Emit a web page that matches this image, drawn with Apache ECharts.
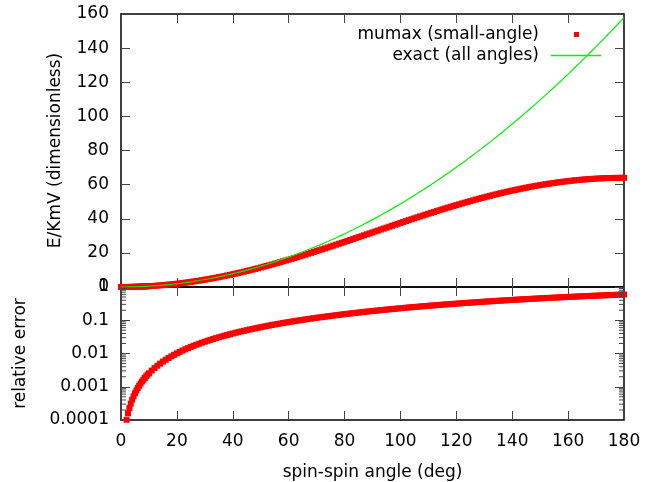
<!DOCTYPE html>
<html>
<head>
<meta charset="utf-8">
<title>mumax small-angle energy vs exact</title>
<script src="https://cdn.jsdelivr.net/npm/echarts@6/dist/echarts.min.js"></script>
<style>
html, body { margin: 0; padding: 0; background: #fff; }
#main { width: 654px; height: 482px; }
</style>
</head>
<body>
<div id="main"></div>
<script>
// spin-spin angle (deg)
var angles = [0, 0.5, 1, 1.5, 2, 2.5, 3, 3.5, 4, 4.5, 5, 5.5, 6, 6.5, 7, 7.5, 8, 8.5, 9, 9.5, 10,
    11, 12, 13, 14, 15, 16, 17, 18, 19, 20,
    21, 22, 23, 24, 25, 26, 27, 28, 29, 30,
    31, 32, 33, 34, 35, 36, 37, 38, 39, 40,
    41, 42, 43, 44, 45, 46, 47, 48, 49, 50,
    51, 52, 53, 54, 55, 56, 57, 58, 59, 60,
    61, 62, 63, 64, 65, 66, 67, 68, 69, 70,
    71, 72, 73, 74, 75, 76, 77, 78, 79, 80,
    81, 82, 83, 84, 85, 86, 87, 88, 89, 90,
    91, 92, 93, 94, 95, 96, 97, 98, 99, 100,
    101, 102, 103, 104, 105, 106, 107, 108, 109, 110,
    111, 112, 113, 114, 115, 116, 117, 118, 119, 120,
    121, 122, 123, 124, 125, 126, 127, 128, 129, 130,
    131, 132, 133, 134, 135, 136, 137, 138, 139, 140,
    141, 142, 143, 144, 145, 146, 147, 148, 149, 150,
    151, 152, 153, 154, 155, 156, 157, 158, 159, 160,
    161, 162, 163, 164, 165, 166, 167, 168, 169, 170,
    171, 172, 173, 174, 175, 176, 177, 178, 179, 180];

// E/KmV, mumax (small-angle)
var mumaxEnergy = [0, 0.00122, 0.00487, 0.01097, 0.0195, 0.03046, 0.04386, 0.05969, 0.07795, 0.09865, 0.1217, 0.1473, 0.1753, 0.2057, 0.2385, 0.2738, 0.3114, 0.3515, 0.394, 0.4389, 0.4862,
    0.5879, 0.6993, 0.8202, 0.9505, 1.0904, 1.2396, 1.3982, 1.5662, 1.7434, 1.9298,
    2.1254, 2.3301, 2.5438, 2.7666, 2.9981, 3.2386, 3.4878, 3.7457, 4.0122, 4.2872,
    4.5707, 4.8625, 5.1625, 5.4708, 5.7871, 6.1115, 6.4437, 6.7837, 7.1313, 7.4866,
    7.8493, 8.2194, 8.5967, 8.9811, 9.3726, 9.7709, 10.176, 10.588, 11.006, 11.431,
    11.862, 12.299, 12.742, 13.191, 13.646, 14.106, 14.572, 15.043, 15.519, 16.0,
    16.486, 16.977, 17.472, 17.972, 18.476, 18.984, 19.497, 20.013, 20.532, 21.055,
    21.582, 22.111, 22.644, 23.18, 23.718, 24.259, 24.802, 25.347, 25.894, 26.443,
    26.994, 27.546, 28.1, 28.655, 29.211, 29.768, 30.325, 30.883, 31.442, 32.0,
    32.558, 33.117, 33.675, 34.232, 34.789, 35.345, 35.9, 36.454, 37.006, 37.557,
    38.106, 38.653, 39.198, 39.742, 40.282, 40.82, 41.356, 41.889, 42.418, 42.945,
    43.468, 43.987, 44.503, 45.016, 45.524, 46.028, 46.528, 47.023, 47.514, 48.0,
    48.481, 48.957, 49.428, 49.894, 50.354, 50.809, 51.258, 51.701, 52.138, 52.569,
    52.994, 53.412, 53.824, 54.229, 54.627, 55.019, 55.403, 55.781, 56.151, 56.513,
    56.869, 57.216, 57.556, 57.889, 58.213, 58.529, 58.837, 59.138, 59.429, 59.713,
    59.988, 60.254, 60.512, 60.761, 61.002, 61.233, 61.456, 61.67, 61.875, 62.07,
    62.257, 62.434, 62.602, 62.76, 62.91, 63.049, 63.18, 63.301, 63.412, 63.514,
    63.606, 63.689, 63.761, 63.825, 63.878, 63.922, 63.956, 63.981, 63.995, 64.0];

// E/KmV, exact (all angles)
var exactEnergy = [0, 0.00122, 0.00487, 0.01097, 0.0195, 0.03046, 0.04387, 0.05971, 0.07798, 0.0987, 0.1218, 0.1474, 0.1755, 0.2059, 0.2388, 0.2742, 0.3119, 0.3521, 0.3948, 0.4399, 0.4874,
    0.5897, 0.7018, 0.8237, 0.9553, 1.0966, 1.2477, 1.4086, 1.5791, 1.7595, 1.9496,
    2.1494, 2.359, 2.5783, 2.8074, 3.0462, 3.2947, 3.5531, 3.8211, 4.0989, 4.3865,
    4.6838, 4.9909, 5.3077, 5.6342, 5.9705, 6.3166, 6.6723, 7.0379, 7.4132, 7.7982,
    8.193, 8.5975, 9.0118, 9.4358, 9.8696, 10.313, 10.766, 11.229, 11.702, 12.185,
    12.677, 13.179, 13.691, 14.212, 14.743, 15.284, 15.835, 16.396, 16.966, 17.546,
    18.136, 18.735, 19.344, 19.963, 20.592, 21.231, 21.879, 22.537, 23.205, 23.882,
    24.569, 25.266, 25.973, 26.689, 27.416, 28.152, 28.897, 29.653, 30.418, 31.193,
    31.978, 32.772, 33.576, 34.39, 35.214, 36.047, 36.89, 37.743, 38.606, 39.478,
    40.361, 41.253, 42.154, 43.066, 43.987, 44.918, 45.858, 46.809, 47.769, 48.739,
    49.718, 50.708, 51.707, 52.716, 53.735, 54.763, 55.801, 56.849, 57.907, 58.974,
    60.051, 61.138, 62.235, 63.341, 64.457, 65.583, 66.719, 67.864, 69.019, 70.184,
    71.358, 72.543, 73.737, 74.941, 76.154, 77.378, 78.611, 79.854, 81.106, 82.369,
    83.641, 84.922, 86.214, 87.515, 88.826, 90.147, 91.478, 92.818, 94.168, 95.528,
    96.898, 98.277, 99.666, 101.065, 102.473, 103.892, 105.32, 106.757, 108.205, 109.662,
    111.129, 112.606, 114.093, 115.589, 117.095, 118.611, 120.136, 121.672, 123.217, 124.771,
    126.336, 127.91, 129.494, 131.088, 132.691, 134.305, 135.928, 137.56, 139.203, 140.855,
    142.517, 144.189, 145.87, 147.562, 149.263, 150.973, 152.694, 154.424, 156.164, 157.914];

// relative error between the two
var relError = [null, 6.35e-6, 2.54e-5, 5.71e-5, 1.015e-4, 1.587e-4, 2.285e-4, 3.11e-4, 4.062e-4, 5.14e-4, 6.346e-4, 7.679e-4, 9.138e-4, 1.0725e-3, 1.243e-3, 1.427e-3, 1.6235e-3, 1.833e-3, 2.0545e-3, 2.289e-3, 2.536e-3,
    0.003068, 0.00365, 0.004283, 0.004966, 0.005699, 0.006482, 0.007315, 0.008198, 0.009131, 0.010113,
    0.011145, 0.012226, 0.013356, 0.014536, 0.015765, 0.017043, 0.018369, 0.019744, 0.021168, 0.022639,
    0.024158, 0.025725, 0.02734, 0.029003, 0.030713, 0.032469, 0.034272, 0.036122, 0.038018, 0.039961,
    0.04195, 0.043984, 0.046064, 0.048189, 0.050359, 0.052573, 0.054832, 0.057135, 0.059482, 0.061873,
    0.064307, 0.066784, 0.069303, 0.071865, 0.074469, 0.077115, 0.079803, 0.082532, 0.085301, 0.08811,
    0.090959, 0.093848, 0.096777, 0.099747, 0.102754, 0.105799, 0.108882, 0.112004, 0.115163, 0.118359,
    0.121591, 0.12486, 0.128164, 0.131504, 0.134879, 0.138288, 0.141732, 0.14521, 0.148721, 0.152265,
    0.155841, 0.15945, 0.163091, 0.166763, 0.170466, 0.1742, 0.177964, 0.181757, 0.185579, 0.189431,
    0.19331, 0.197218, 0.201153, 0.205115, 0.209103, 0.213118, 0.217158, 0.221224, 0.225314, 0.229428,
    0.233566, 0.237728, 0.241912, 0.246119, 0.250348, 0.254598, 0.258869, 0.26316, 0.267471, 0.271803,
    0.276153, 0.280522, 0.284909, 0.289313, 0.293734, 0.298173, 0.302627, 0.307097, 0.311582, 0.316082,
    0.320596, 0.325124, 0.329665, 0.334219, 0.338785, 0.343362, 0.347951, 0.352551, 0.357161, 0.361781,
    0.36641, 0.371048, 0.375694, 0.380348, 0.385009, 0.389678, 0.394352, 0.399033, 0.403719, 0.40841,
    0.413105, 0.417805, 0.422508, 0.427214, 0.431922, 0.436632, 0.441344, 0.446057, 0.450771, 0.455485,
    0.460198, 0.464911, 0.469622, 0.474332, 0.47904, 0.483745, 0.488446, 0.493144, 0.497838, 0.502528,
    0.507213, 0.511893, 0.516567, 0.521234, 0.525895, 0.530549, 0.535195, 0.539833, 0.544463, 0.549084,
    0.553696, 0.558298, 0.56289, 0.567471, 0.572041, 0.5766, 0.581147, 0.585683, 0.590205, 0.594715];

var errorTickLabels = ['0.0001', '0.001', '0.01', '0.1', '1'];
var errorMinorTicks = [2e-4, 3e-4, 4e-4, 5e-4, 6e-4, 7e-4, 8e-4, 9e-4,
    2e-3, 3e-3, 4e-3, 5e-3, 6e-3, 7e-3, 8e-3, 9e-3,
    0.02, 0.03, 0.04, 0.05, 0.06, 0.07, 0.08, 0.09,
    0.2, 0.3, 0.4, 0.5, 0.6, 0.7, 0.8, 0.9];

var myChart = echarts.init(document.getElementById('main'));
var option;
var font = 'DejaVu Sans';
var tickColor = '#444';
var green = '#00f000';

function pairs(values) {
    var out = [];
    for (var i = 0; i < angles.length; i++) {
        out.push([angles[i], values[i]]);
    }
    return out;
}

// gnuplot style border: black line, ticks inside, mirrored on the other side
function frameAxis(extra) {
    var axis = {
        axisLine: { show: true, onZero: false, lineStyle: { color: '#000', width: 1.5 } },
        axisTick: { show: true, inside: true, length: 9, lineStyle: { color: tickColor, width: 1 } },
        axisLabel: { show: false, fontFamily: font, fontSize: 17, color: '#000' },
        splitLine: { show: false },
        nameTextStyle: { fontFamily: font, fontSize: 17, color: '#000' }
    };
    for (var k in extra) {
        if (k === 'axisLabel') {
            for (var j in extra.axisLabel) axis.axisLabel[j] = extra.axisLabel[j];
        } else {
            axis[k] = extra[k];
        }
    }
    return axis;
}

// log minor ticks (2..9 of each decade), both sides of the lower panel
function renderMinorTick(params, api) {
    var v = api.value(1);
    var left = api.coord([0, v]);
    var right = api.coord([180, v]);
    var style = { stroke: tickColor, lineWidth: 1 };
    return {
        type: 'group',
        children: [
            { type: 'line', shape: { x1: left[0], y1: left[1], x2: left[0] + 5, y2: left[1] }, style: style },
            { type: 'line', shape: { x1: right[0] - 5, y1: right[1], x2: right[0], y2: right[1] }, style: style }
        ]
    };
}

var minorData = [];
for (var m = 0; m < errorMinorTicks.length; m++) {
    minorData.push([0, errorMinorTicks[m]]);
}

option = {
    backgroundColor: '#fff',
    animation: false,
    textStyle: { fontFamily: font },
    grid: [
        { left: 121, right: 30, top: 14, height: 273, outerBoundsMode: 'none' },
        { left: 121, right: 30, top: 287, height: 133, outerBoundsMode: 'none' }
    ],
    legend: [
        {
            data: [{ name: 'mumax (small-angle)', icon: 'rect' }],
            orient: 'vertical',
            align: 'right',
            right: 75,
            top: 26,
            padding: 0,
            itemWidth: 5,
            itemHeight: 5,
            textStyle: { fontFamily: font, fontSize: 17, color: '#000', padding: [0, 30, 0, 0] }
        },
        {
            data: [{ name: 'exact (all angles)', icon: 'rect', itemStyle: { color: green } }],
            orient: 'vertical',
            align: 'right',
            right: 53,
            top: 47,
            padding: 0,
            itemWidth: 50,
            itemHeight: 1.5,
            textStyle: { fontFamily: font, fontSize: 17, color: '#000', padding: [0, 7, 0, 0] }
        }
    ],
    xAxis: [
        frameAxis({ type: 'value', gridIndex: 0, min: 0, max: 180, interval: 20, position: 'bottom' }),
        frameAxis({ type: 'value', gridIndex: 0, min: 0, max: 180, interval: 20, position: 'top' }),
        frameAxis({
            type: 'value', gridIndex: 1, min: 0, max: 180, interval: 20, position: 'bottom',
            axisLabel: { show: true, margin: 13 },
            name: 'spin-spin angle (deg)', nameLocation: 'middle', nameGap: 44
        }),
        frameAxis({ type: 'value', gridIndex: 1, min: 0, max: 180, interval: 20, position: 'top' })
    ],
    yAxis: [
        frameAxis({
            type: 'value', gridIndex: 0, min: 0, max: 160, interval: 20, position: 'left',
            axisLabel: { show: true, margin: 12 },
            name: 'E/KmV (dimensionless)', nameLocation: 'middle', nameGap: 57
        }),
        frameAxis({ type: 'value', gridIndex: 0, min: 0, max: 160, interval: 20, position: 'right' }),
        frameAxis({
            type: 'log', logBase: 10, gridIndex: 1, min: 0.0001, max: 1, position: 'left',
            axisLabel: {
                show: true, margin: 12,
                formatter: function (value) {
                    var k = Math.round(Math.log(value) / Math.LN10) + 4;
                    return errorTickLabels[k] || '';
                }
            },
            name: 'relative error', nameLocation: 'middle', nameGap: 92
        }),
        frameAxis({ type: 'log', logBase: 10, gridIndex: 1, min: 0.0001, max: 1, position: 'right' })
    ],
    series: [
        {
            name: 'mumax (small-angle)',
            type: 'scatter',
            xAxisIndex: 0,
            yAxisIndex: 0,
            symbol: 'rect',
            symbolSize: 6,
            data: pairs(mumaxEnergy),
            itemStyle: { color: '#ff0000', opacity: 1 },
            z: 2
        },
        {
            name: 'exact (all angles)',
            type: 'line',
            xAxisIndex: 0,
            yAxisIndex: 0,
            symbol: 'none',
            data: pairs(exactEnergy),
            lineStyle: { color: green, width: 1.2 },
            itemStyle: { color: green },
            z: 3
        },
        {
            name: 'relative error',
            type: 'scatter',
            xAxisIndex: 2,
            yAxisIndex: 2,
            symbol: 'rect',
            symbolSize: 6,
            clip: true,
            data: pairs(relError),
            itemStyle: { color: '#ff0000', opacity: 1 },
            z: 2
        },
        {
            name: 'minor ticks',
            type: 'custom',
            xAxisIndex: 2,
            yAxisIndex: 2,
            silent: true,
            renderItem: renderMinorTick,
            data: minorData,
            z: 4
        }
    ]
};

myChart.setOption(option);

window.onresize = function () {
    if (myChart) {
        myChart.resize();
    }
};
</script>
</body>
</html>
